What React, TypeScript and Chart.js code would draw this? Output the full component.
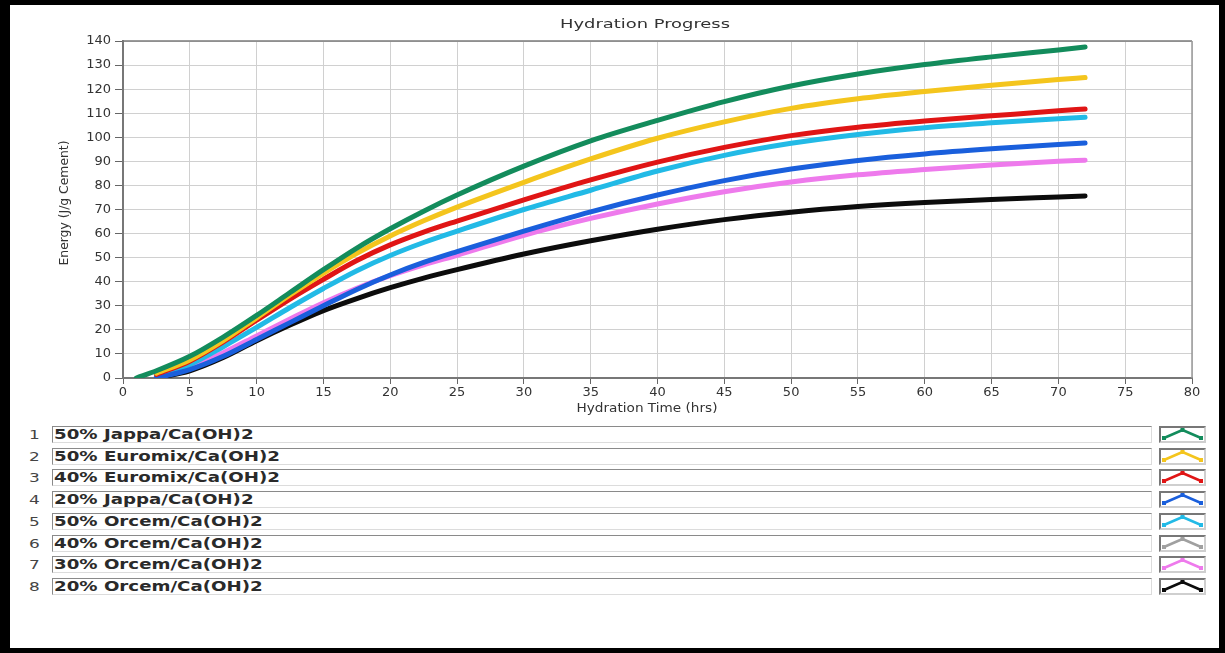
import React, { useEffect, useRef } from "react";
import { Chart, registerables } from "chart.js";

Chart.register(...registerables);

// ---- data ----
const hours = [1, 2.5, 5, 7.5, 10, 12.5, 15, 17.5, 20, 22.5, 25, 30, 35, 40, 45, 50, 55, 60, 65, 70, 72];

const seriesNames = [
  "50% Jappa/Ca(OH)2",
  "50% Euromix/Ca(OH)2",
  "40% Euromix/Ca(OH)2",
  "20% Jappa/Ca(OH)2",
  "50% Orcem/Ca(OH)2",
  "40% Orcem/Ca(OH)2",
  "30% Orcem/Ca(OH)2",
  "20% Orcem/Ca(OH)2",
];

const seriesColors = ["#138c5c", "#f4c51d", "#e01515", "#1a5fdc", "#22bae6", "#a0a0a0", "#ee7aec", "#0c0c0c"];

const jappa50: (number | null)[] = [0, 3, 9, 17, 26, 35.5, 45, 54, 62, 69.3, 76, 88, 98.5, 107, 114.8, 121.3, 126.3, 130.2, 133.4, 136.3, 137.5];
const euromix50: (number | null)[] = [null, 2, 7.5, 15.5, 25, 34.5, 43.5, 51.8, 59, 65.3, 71, 81.3, 91, 99.6, 106.4, 112, 116, 119, 121.6, 124, 124.8];
const euromix40: (number | null)[] = [null, 1.5, 7, 15, 24, 32.8, 41, 48.8, 55.3, 60.6, 65.2, 74, 82.3, 89.7, 95.8, 100.7, 104.2, 106.8, 108.9, 111, 111.8];
const jappa20: (number | null)[] = [null, 0, 3.5, 9, 16, 23, 30, 36.8, 42.8, 48, 52.5, 61, 69, 76, 82, 86.8, 90.4, 93.1, 95.2, 97, 97.6];
const orcem50: (number | null)[] = [null, 0.5, 5.5, 13, 21, 29.3, 37.2, 44.6, 50.9, 56.3, 61, 70, 78, 86, 92.5, 97.5, 101.2, 104, 106, 107.7, 108.3];
const orcem40: (number | null)[] = [];
const orcem30: (number | null)[] = [null, 0.3, 4.5, 10.5, 17.5, 24.5, 31.3, 37.3, 42.5, 47, 51, 59.3, 66.3, 72.3, 77.4, 81.4, 84.4, 86.6, 88.5, 90, 90.5];
const orcem20: (number | null)[] = [null, 0, 3, 8.5, 15.5, 22, 28, 33, 37.5, 41.5, 45, 51.5, 57, 61.8, 65.8, 68.9, 71.2, 72.9, 74.2, 75.2, 75.6];

const seriesValues = [jappa50, euromix50, euromix40, jappa20, orcem50, orcem40, orcem30, orcem20];

const chartTitle = "Hydration Progress";
const xTitle = "Hydration Time (hrs)";
const yTitle = "Energy (J/g Cement)";

const FONT = "'DejaVu Sans', Verdana, sans-serif";

const titlesPlugin = {
  id: "titlesPlugin",
  afterDraw(chart: any) {
    const ctx = chart.ctx as CanvasRenderingContext2D;
    const area = chart.chartArea;
    ctx.save();
    ctx.strokeStyle = "#7a7a7a";
    ctx.lineWidth = 1.5;
    ctx.beginPath();
    ctx.moveTo(area.left, area.top);
    ctx.lineTo(area.right, area.top);
    ctx.stroke();
    ctx.strokeStyle = "#9a9a9a";
    ctx.beginPath();
    ctx.moveTo(area.right, area.top);
    ctx.lineTo(area.right, area.bottom);
    ctx.stroke();

    ctx.fillStyle = "#333";
    ctx.textAlign = "center";
    ctx.textBaseline = "middle";
    const drawH = (text: string, cx: number, cy: number, size: number, target: number) => {
      ctx.font = `${size}px ${FONT}`;
      const w = ctx.measureText(text).width;
      ctx.save();
      ctx.translate(cx, cy);
      ctx.scale(target / w, 1);
      ctx.fillText(text, 0, 0);
      ctx.restore();
    };
    drawH(chartTitle, 645, 25, 13, 170);
    drawH(xTitle, 647, 409, 12, 141);
    ctx.font = `11px ${FONT}`;
    const w = ctx.measureText(yTitle).width;
    ctx.save();
    ctx.translate(65, 203);
    ctx.rotate(-Math.PI / 2);
    ctx.scale(125 / w, 1.15);
    ctx.fillText(yTitle, 0, 0);
    ctx.restore();
    ctx.restore();
  },
};

function LegendIcon({ color }: { color: string }) {
  const pts = [
    [3, 10],
    [21.5, 2],
    [40, 10],
  ];
  return (
    <svg width={43} height={13} style={{ display: "block" }}>
      <polyline
        points={pts.map((p) => p.join(",")).join(" ")}
        fill="none"
        stroke={color}
        strokeWidth={2.5}
        strokeLinejoin="round"
      />
      {pts.map((p, i) => (
        <rect key={i} x={p[0] - 2} y={p[1] - 2} width={4} height={4} fill={color} />
      ))}
    </svg>
  );
}

export default function App() {
  const ref = useRef<HTMLCanvasElement>(null);

  useEffect(() => {
    document.body.style.margin = "0";
    const datasets = seriesNames.map((name, i) => ({
      label: name,
      data: hours
        .map((h, j) => ({ x: h, y: seriesValues[i][j] }))
        .filter((p) => p.y !== null && p.y !== undefined),
      borderColor: seriesColors[i],
      backgroundColor: seriesColors[i],
      borderWidth: 5,
      pointRadius: 0,
      cubicInterpolationMode: "monotone" as const,
      borderCapStyle: "round" as const,
      borderJoinStyle: "round" as const,
      fill: false,
    }));

    const tickFont = { family: FONT, size: 13 };
    const chart = new Chart(ref.current!, {
      type: "line",
      data: { datasets },
      options: {
        responsive: false,
        animation: false,
        devicePixelRatio: 1,
        layout: { padding: { left: 0, top: 41, right: 33, bottom: 0 } },
        plugins: {
          legend: { display: false },
          tooltip: { enabled: false },
          title: { display: false },
        },
        scales: {
          x: {
            type: "linear",
            min: 0,
            max: 80,
            ticks: { stepSize: 5, color: "#333", font: tickFont, padding: 1, maxRotation: 0, autoSkip: false },
            grid: { color: "#d0d0d0", lineWidth: 1, tickLength: 6, tickColor: "#666" },
            border: { color: "#777", width: 2 },
            afterFit: (s: any) => {
              s.height = 42;
            },
          },
          y: {
            type: "linear",
            min: 0,
            max: 140,
            ticks: { stepSize: 10, color: "#333", font: tickFont, padding: 4 },
            grid: { color: "#d0d0d0", lineWidth: 1, tickLength: 8, tickColor: "#666" },
            border: { color: "#777", width: 2 },
            afterFit: (s: any) => {
              s.width = 123;
            },
          },
        },
      },
      plugins: [titlesPlugin],
    });
    return () => chart.destroy();
  }, []);

  const rowTop = (i: number) => 426 + i * 21.7;

  return (
    <div style={{ position: "absolute", left: 0, top: 0, width: 1225, height: 653, background: "#fff", overflow: "hidden" }}>
      <canvas ref={ref} width={1225} height={420} style={{ position: "absolute", left: 0, top: 0, width: 1225, height: 420 }} />
      {seriesNames.map((name, i) => (
        <React.Fragment key={name}>
          <div
            style={{
              position: "absolute",
              left: 29,
              top: rowTop(i),
              height: 17,
              lineHeight: "17px",
              fontFamily: FONT,
              fontSize: 13,
              color: "#444",
              transform: "scaleX(1.3)",
              transformOrigin: "left center",
            }}
          >
            {i + 1}
          </div>
          <div
            style={{
              position: "absolute",
              left: 52,
              top: rowTop(i),
              width: 1100,
              height: 17,
              boxSizing: "border-box",
              borderTop: "1px solid #8a8a8a",
              borderLeft: "1px solid #8a8a8a",
              borderBottom: "1px solid #dcdcdc",
              borderRight: "1px solid #dcdcdc",
              overflow: "hidden",
            }}
          >
            <div
              style={{
                position: "absolute",
                left: 1,
                top: 0,
                lineHeight: "15px",
                fontFamily: FONT,
                fontSize: 14,
                fontWeight: "bold",
                color: "#2a2a2a",
                whiteSpace: "nowrap",
                transform: "scaleX(1.3)",
                transformOrigin: "left center",
              }}
            >
              {name}
            </div>
          </div>
          <div
            style={{
              position: "absolute",
              left: 1159,
              top: rowTop(i),
              width: 47,
              height: 17,
              boxSizing: "border-box",
              borderTop: "2px solid #777",
              borderLeft: "2px solid #777",
              borderBottom: "2px solid #cfcfcf",
              borderRight: "2px solid #cfcfcf",
            }}
          >
            <LegendIcon color={seriesColors[i]} />
          </div>
        </React.Fragment>
      ))}
      <div
        style={{
          position: "absolute",
          left: 0,
          top: 0,
          width: 1225,
          height: 653,
          boxSizing: "border-box",
          borderStyle: "solid",
          borderColor: "#000",
          borderWidth: "5px 6px 5px 10px",
          pointerEvents: "none",
        }}
      />
    </div>
  );
}
